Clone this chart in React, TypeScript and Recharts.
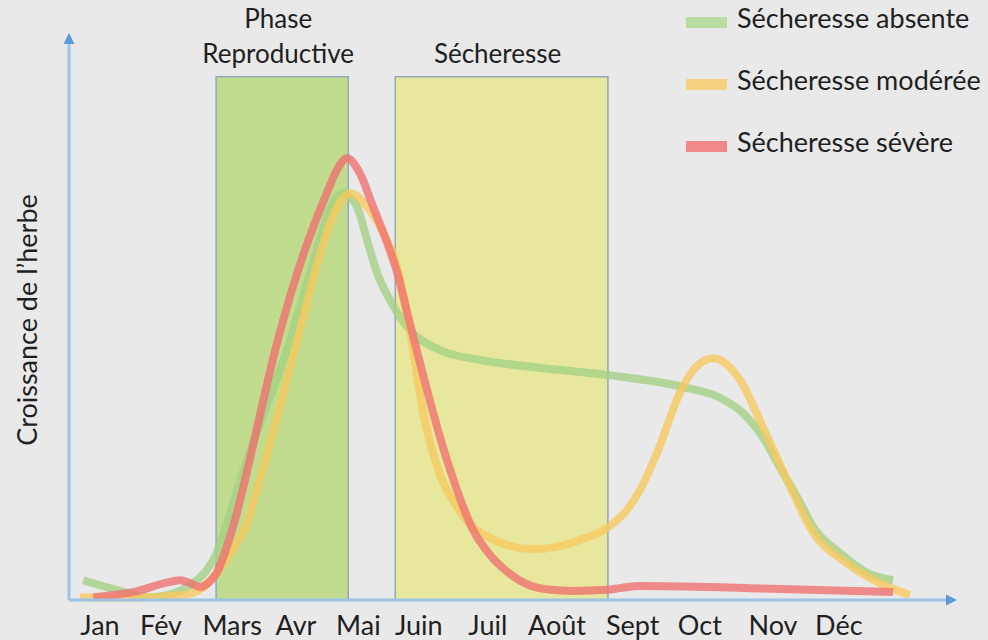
import {
  Legend,
  Line,
  LineChart,
  ReferenceArea,
  ReferenceDot,
  XAxis,
  YAxis,
} from "recharts";

// month labels and where they sit along the (irregular) time axis
const months = ["Jan", "Fév", "Mars", "Avr", "Mai", "Juin", "Juil", "Août", "Sept", "Oct", "Nov", "Déc"];
const monthPos = [1, 1.91, 2.97, 3.92, 4.85, 5.75, 6.78, 7.81, 8.94, 9.94, 11.03, 12.01];

// growth curves: [month, growth]
const absente = [
  [0.75, 3.5], [1.15, 2.1], [1.75, 0.5], [2.15, 1.4], [2.39, 3.0], [2.59, 5.3],
  [2.74, 8.3], [2.86, 12.4], [3.09, 21.2], [3.83, 46.0], [4.13, 57.9], [4.35, 66.7],
  [4.47, 70.3], [4.62, 72.0], [4.83, 69.6], [4.98, 63.7], [5.13, 57.9], [5.32, 53.1],
  [5.58, 48.3], [6.07, 44.2], [6.66, 42.5], [7.56, 41.1], [8.57, 39.8], [9.69, 37.7],
  [10.24, 35.8], [10.58, 33.1], [10.88, 28.8], [11.13, 23.5], [11.39, 18.2],
  [11.63, 12.9], [12.03, 8.3], [12.43, 4.8], [12.82, 3.5],
];
const moderee = [
  [0.7, 0.5], [1.45, 0.4], [2.24, 0.9], [2.54, 2.3], [2.74, 4.8], [2.98, 8.8],
  [3.19, 13.6], [3.38, 21.2], [3.94, 46.0], [4.2, 57.9], [4.43, 66.7], [4.73, 72.0],
  [4.98, 69.6], [5.22, 65.0], [5.43, 58.9], [5.62, 47.8], [5.81, 33.6], [6.07, 22.1],
  [6.32, 16.5], [6.56, 12.9], [6.81, 11.0], [7.07, 9.7], [7.45, 9.0], [7.81, 9.4],
  [8.15, 10.6], [8.55, 12.7], [8.85, 15.9], [9.05, 19.5], [9.3, 26.0], [9.64, 36.6],
  [9.87, 41.1], [10.14, 42.8], [10.54, 38.9], [10.88, 30.6], [11.24, 21.2],
  [11.63, 11.9], [12.13, 6.5], [12.62, 3.0], [13.07, 0.9],
];
const severe = [
  [0.9, 0.5], [1.49, 1.4], [2.04, 3.2], [2.19, 3.5], [2.34, 3.0], [2.49, 2.3],
  [2.61, 3.0], [2.74, 4.8], [2.89, 9.4], [3.04, 15.4], [3.16, 21.2], [3.65, 46.0],
  [3.94, 57.9], [4.2, 66.7], [4.4, 72.6], [4.53, 76.1], [4.68, 78.2], [4.87, 75.6],
  [5.07, 69.6], [5.28, 63.2], [5.43, 57.9], [5.58, 50.8], [6.17, 24.8], [6.56, 12.4],
  [6.81, 8.0], [7.07, 5.0], [7.36, 2.8], [7.71, 1.8], [8.05, 1.6], [8.56, 1.8],
  [8.75, 2.1], [9.05, 2.5], [10.69, 2.1], [12.82, 1.4],
];

const series = [
  { name: "Sécheresse absente", color: "#a3d184", swatch: "#b9dca0", points: absente },
  { name: "Sécheresse modérée", color: "#f7c95e", swatch: "#f5d27d", points: moderee },
  { name: "Sécheresse sévère", color: "#f07070", swatch: "#f08a8a", points: severe },
];

// shaded periods
const periods = [
  { lines: ["Phase", "Reproductive"], from: 2.73, to: 4.7, fill: "#c1dc8f" },
  { lines: ["Sécheresse"], from: 5.4, to: 8.57, fill: "#e7e79e" },
];

const FONT = "Lato, 'Open Sans', sans-serif";
const TEXT = "#1f1f1f";
const AXIS = "#9dc3e6";

function PeriodLabel({ viewBox, lines }: any) {
  const cx = viewBox.x + viewBox.width / 2 - 4;
  return (
    <text x={cx} textAnchor="middle" fontSize={26} fontFamily={FONT} fill={TEXT}>
      {lines.map((l: string, i: number) => (
        <tspan key={l} x={cx} y={viewBox.y - 14 - (lines.length - 1 - i) * 35}>
          {l}
        </tspan>
      ))}
    </text>
  );
}

function YLabel({ viewBox }: any) {
  const x = viewBox.x + 37;
  const y = 320;
  return (
    <text x={x} y={y} transform={`rotate(-90 ${x} ${y})`} textAnchor="middle" fontSize={27} fontFamily={FONT} fill={TEXT}>
      Croissance de l’herbe
    </text>
  );
}

const upArrow = ({ cx, cy }: any) => (
  <path d={`M${cx} ${cy - 2} L${cx - 5.5} ${cy + 9} L${cx + 5.5} ${cy + 9} Z`} fill="#5b9bd5" />
);
const rightArrow = ({ cx, cy }: any) => (
  <path d={`M${cx + 2} ${cy} L${cx - 9} ${cy - 5.5} L${cx - 9} ${cy + 5.5} Z`} fill="#5b9bd5" />
);

function LegendBox() {
  return (
    <div style={{ position: "relative", width: 300, height: 180, fontFamily: FONT }}>
      {series.map((s, i) => (
        <div key={s.name} style={{ position: "absolute", top: i * 62, left: 0, width: 300, height: 40 }}>
          <div style={{ position: "absolute", left: 0, top: 17, width: 41, height: 11, background: s.swatch }} />
          <span style={{ position: "absolute", left: 51, top: 4, fontSize: 27, lineHeight: "27px", color: TEXT, whiteSpace: "nowrap" }}>
            {s.name}
          </span>
        </div>
      ))}
    </div>
  );
}

export default function App() {
  return (
    <div style={{ position: "absolute", left: 0, top: 0, width: 988, height: 640, background: "#e9e9e9", fontFamily: FONT }}>
      <LineChart width={988} height={640} margin={{ top: 35, right: 33, bottom: 0, left: 0 }}>
        <XAxis
          type="number"
          dataKey="m"
          domain={[0.538, 13.742]}
          ticks={monthPos}
          tickFormatter={(v: number) => months[monthPos.indexOf(v)]}
          interval={0}
          height={40}
          tickSize={0}
          tickMargin={16}
          tickLine={false}
          axisLine={{ stroke: AXIS, strokeWidth: 3 }}
          tick={{ fill: TEXT, fontSize: 27, fontFamily: FONT }}
          allowDataOverflow
        />
        <YAxis
          type="number"
          domain={[0, 100]}
          width={69}
          tick={false}
          tickLine={false}
          axisLine={{ stroke: AXIS, strokeWidth: 3 }}
          label={(p: any) => <YLabel {...p} />}
        />
        {periods.map((p) => (
          <ReferenceArea
            key={p.lines.join(" ")}
            x1={p.from}
            x2={p.to}
            y1={0}
            y2={92.6}
            fill={p.fill}
            fillOpacity={1}
            stroke="#93a9b8"
            strokeWidth={1.5}
            label={(lp: any) => <PeriodLabel {...lp} lines={p.lines} />}
          />
        ))}
        {series.map((s) => (
          <Line
            key={s.name}
            data={s.points.map(([m, v]) => ({ m, v }))}
            dataKey="v"
            name={s.name}
            type="monotone"
            stroke={s.color}
            strokeWidth={8}
            strokeOpacity={0.78}
            dot={false}
            activeDot={false}
            isAnimationActive={false}
          />
        ))}
        <ReferenceDot x={0.538} y={100} ifOverflow="visible" shape={upArrow} />
        <ReferenceDot x={13.742} y={0} ifOverflow="visible" shape={rightArrow} />
        <Legend
          layout="vertical"
          align="center"
          verticalAlign="middle"
          wrapperStyle={{ left: 686, top: 0, width: 300 }}
          content={() => <LegendBox />}
        />
      </LineChart>
    </div>
  );
}
